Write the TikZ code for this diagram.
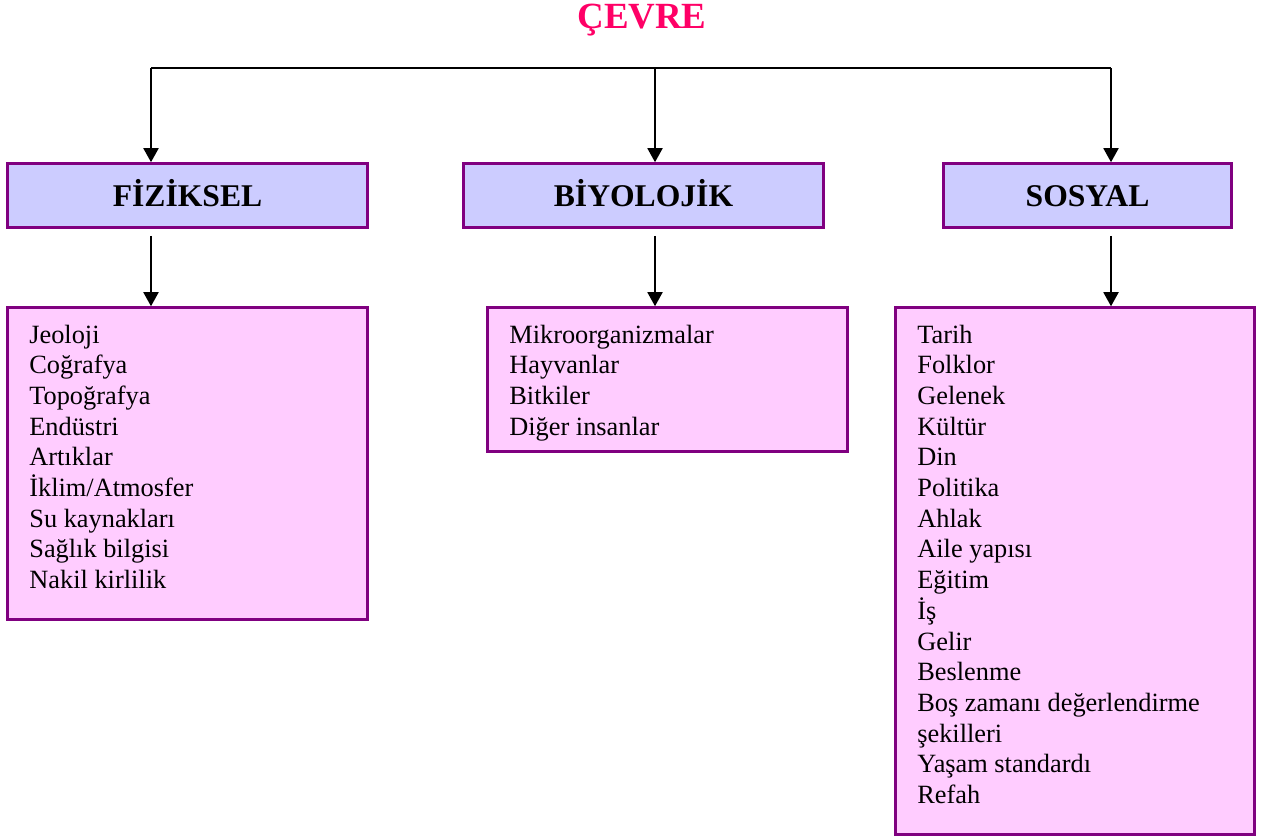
\documentclass[tikz,border=0pt]{standalone}
\usepackage{fontspec}
\setmainfont{Liberation Serif}
\usetikzlibrary{arrows.meta, positioning}
\definecolor{titlered}{HTML}{FF0066}
\definecolor{boxline}{HTML}{800080}
\definecolor{headfill}{HTML}{CCCCFF}
\definecolor{listfill}{HTML}{FFCCFF}

\begin{document}
\begin{tikzpicture}[x=0.02cm, y=-0.02cm]
	\tikzset{head/.style={draw=boxline, fill=headfill, line width=1.5pt, minimum width=7.2cm, minimum height=1.28cm, inner sep=0, text height=12pt, text depth=0pt, font=\fontsize{18}{21}\selectfont\bfseries}}
	\tikzset{listbox/.style={draw=boxline, fill=listfill, line width=1.5pt, inner sep=0}}
	\tikzset{item/.style={anchor=base west, inner sep=0, font=\fontsize{15}{17}\selectfont}}
	\tikzset{down/.style={-{Triangle[length=0.28cm, width=0.3cm]}, line width=1.1pt}}
	\useasboundingbox (0,0) rectangle (1267,839);
		\node[inner sep=0, text height=13.5pt, text depth=0pt, font=\fontsize{21}{25}\selectfont\bfseries, text=titlered] (cevre) at (642,16.5) {ÇEVRE};
		\node[head] (fiz) at (187.5,195.5) {FİZİKSEL};
		\node[head] (biy) at (643.5,195.5) {BİYOLOJİK};
		\node[head, minimum width=5.76cm] (sos) at (1087.5,195.5) {SOSYAL};
		\node[listbox, minimum width=7.2cm, minimum height=6.24cm] (fizlist) at (187.5,463.5) {};
		\node[listbox, minimum width=7.2cm, minimum height=2.88cm] (biylist) at (667.5,379.5) {};
		\node[listbox, minimum width=7.18cm, minimum height=10.54cm] (soslist) at (1075,571) {};
		\foreach \name/\x in {split1/151, split2/655, split3/1111} {\coordinate (\name) at (\x,68);}
		\draw[line width=1.1pt] (split1) -- (split3);
		\draw[down] (split1) -- (split1 |- fiz.north);
		\draw[down] (split2) -- (split2 |- biy.north);
		\draw[down] (split3) -- (split3 |- sos.north);
		\draw[down, shorten <=0.14cm] (fiz.south -| split1) -- (fizlist.north -| split1);
		\draw[down, shorten <=0.14cm] (biy.south -| split2) -- (biylist.north -| split2);
		\draw[down, shorten <=0.14cm] (sos.south -| split3) -- (soslist.north -| split3);
		% items
		\foreach \t [count=\i] in {Jeoloji, Coğrafya, Topoğrafya, Endüstri, Artıklar, İklim/Atmosfer, Su kaynakları, Sağlık bilgisi, Nakil kirlilik}
		{\node[item] (fiz\i) at (29,{343+30.7*(\i-1)}) {\t};}
		\foreach \t [count=\i] in {Mikroorganizmalar, Hayvanlar, Bitkiler, Diğer insanlar}
		{\node[item] (biy\i) at (509,{343+30.7*(\i-1)}) {\t};}
		\foreach \t [count=\i] in {Tarih, Folklor, Gelenek, Kültür, Din, Politika, Ahlak, Aile yapısı, Eğitim, İş, Gelir, Beslenme, Boş zamanı değerlendirme, şekilleri, Yaşam standardı, Refah}
		{\node[item] (sos\i) at (917,{343+30.7*(\i-1)}) {\t};}
	\end{tikzpicture}
\end{document}
